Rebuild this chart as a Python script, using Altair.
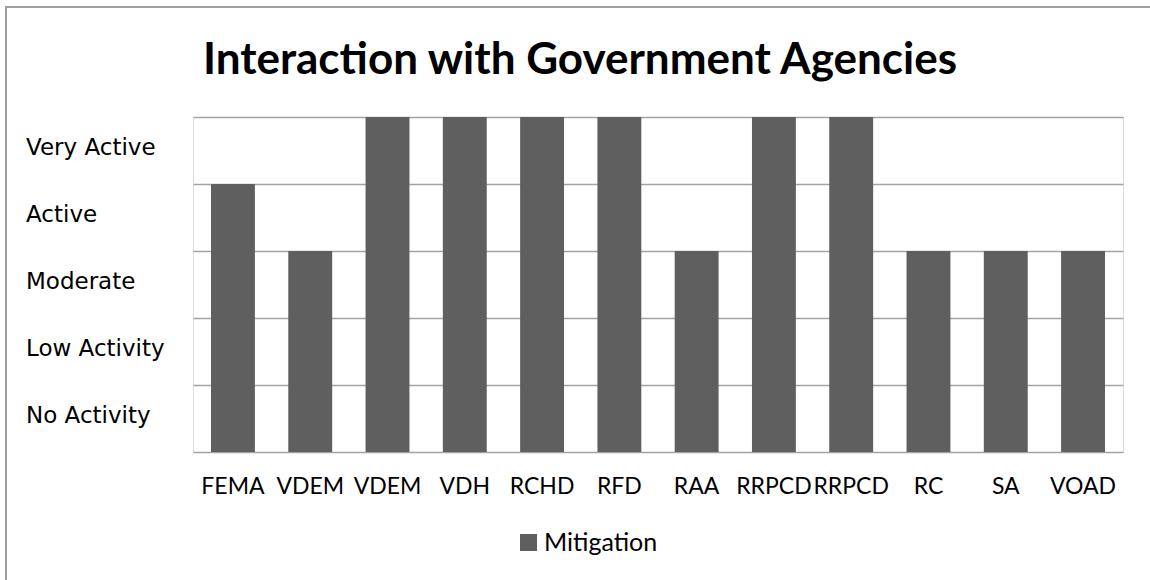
import altair as alt
import pandas as pd

agencies = ["FEMA", "VDEM", "VDEM", "VDH", "RCHD", "RFD", "RAA", "RRPCD", "RRPCD", "RC", "SA", "VOAD"]
mitigation = [4, 3, 5, 5, 5, 5, 3, 5, 5, 3, 3, 3]
level_labels = ["No Activity", "Low Activity", "Moderate", "Active", "Very Active"]
level_positions = [0.5, 1.5, 2.5, 3.5, 4.5]
series_name = "Mitigation"
title_text = "Interaction with Government Agencies"

bars_df = pd.DataFrame({
    "idx": list(range(len(agencies))),
    "agency": agencies,
    "value": mitigation,
    "series": [series_name] * len(agencies),
})
levels_df = pd.DataFrame({"label": level_labels, "pos": level_positions})

BAR = "#5f5f5f"
GRID = "#a3a3a3"
FONT = "Lato"

label_expr = "[" + ",".join("'%s'" % a for a in agencies) + "][datum.value]"

yscale = alt.Scale(domain=[0, 5], nice=False)

bars = alt.Chart(bars_df).mark_bar(color=BAR).encode(
    x=alt.X("idx:O", title=None,
            scale=alt.Scale(paddingInner=0.432, paddingOuter=0.233),
            axis=alt.Axis(labelExpr=label_expr, labelAngle=0, labelFont=FONT,
                          labelFontSize=23, labelColor="#000000", ticks=False,
                          domain=False, labelPadding=23, grid=False)),
    y=alt.Y("value:Q", title=None, scale=yscale,
            axis=alt.Axis(values=[0, 1, 2, 3, 4, 5], labels=False, ticks=False,
                          domain=False, grid=True, gridColor=GRID, gridWidth=1.6)),
    color=alt.Color("series:N", title=None,
                    scale=alt.Scale(range=[BAR]),
                    legend=alt.Legend(orient="none", legendX=323, legendY=413,
                                      symbolType="square", symbolSize=289,
                                      symbolStrokeWidth=0, symbolOpacity=1,
                                      labelFont=FONT, labelFontSize=25,
                                      labelColor="#000000", labelOffset=3)),
)

ylabels = alt.Chart(levels_df).mark_text(
    align="left", baseline="middle", font="DejaVu Sans", fontSize=23, color="#000000", dy=-3
).encode(
    x=alt.value(-167),
    y=alt.Y("pos:Q", scale=yscale),
    text="label:N",
)

title = alt.Chart(pd.DataFrame({"t": [title_text]})).mark_text(
    align="center", baseline="alphabetic", font=FONT, fontSize=44,
    fontWeight="bold", color="#000000"
).encode(
    x=alt.value(387), y=alt.value(-43), text="t:N",
)

frame = alt.Chart(pd.DataFrame({"k": [0]})).mark_rect(
    fill=None, stroke="#a0a0a0", strokeWidth=2
).encode(
    x=alt.value(-187), x2=alt.value(980),
    y=alt.value(-110), y2=alt.value(500),
)

chart = alt.layer(frame, bars, ylabels, title).properties(
    width=930, height=335,
    padding={"left": 193, "top": 117, "right": 27, "bottom": 128},
    autosize=alt.AutoSizeParams(type="none"),
).configure_view(stroke=None).configure(background="#ffffff")

chart.save("out.html", embed_options={"renderer": "svg", "actions": False})
